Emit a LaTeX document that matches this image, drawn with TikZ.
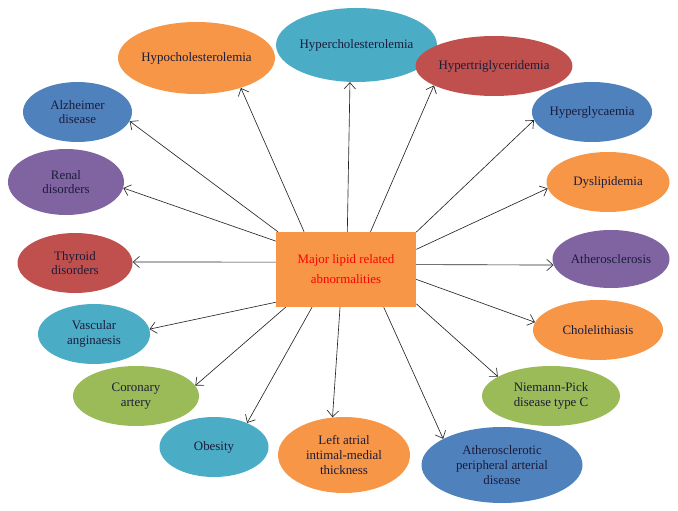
\documentclass[tikz,border=0pt]{standalone}
\usepackage{fontspec}
\setmainfont{Liberation Serif}
\definecolor{offorange}{HTML}{F79646}
\definecolor{offteal}{HTML}{4BACC6}
\definecolor{offred}{HTML}{C0504D}
\definecolor{offblue}{HTML}{4F81BD}
\definecolor{offpurple}{HTML}{8064A2}
\definecolor{offgreen}{HTML}{9BBB59}
\definecolor{inktext}{HTML}{1C1C3A}
\usetikzlibrary{arrows.meta, shapes.geometric}

\begin{document}
\begin{tikzpicture}[x=0.03cm, y=-0.03cm, >={Straight Barb[length=1.9mm,width=3.4mm]},
    blob/.style={ellipse, inner sep=0pt, align=center, text=inktext,
                 font=\fontsize{11}{12.5}\selectfont},
    wh/.style 2 args={minimum width=#1*0.03cm, minimum height=#2*0.03cm}]
      \useasboundingbox (0,0) rectangle (678,511);
      % Centre
      \node[fill=offorange, wh={140}{75}, align=center, text=red,
            font=\fontsize{11}{17}\selectfont] (main) at (346,269.5)
            {Major lipid related\\abnormalities};
      % Ring of abnormalities
      \node[blob, fill=offorange, wh={157}{72}] (hypo) at (196.5,58) {Hypocholesterolemia};
      \node[blob, fill=offteal, wh={157}{74}] (hyperc) at (356.5,45) {Hypercholesterolemia};
      \node[blob, fill=offred, wh={118}{60}] (hypert) at (494,66) {Hypertriglyceridemia};
      \node[blob, fill=offblue, wh={119}{60}] (hyperg) at (592,112) {Hyperglycaemia};
      \node[blob, fill=offorange, wh={123}{60}] (dysl) at (608,182) {Dyslipidemia};
      \node[blob, fill=offpurple, wh={117}{58}] (ather) at (611,259) {Atherosclerosis};
      \node[blob, fill=offorange, wh={130}{60}] (chole) at (598,330) {Cholelithiasis};
      \node[blob, fill=offgreen, wh={138}{60}] (niem) at (551,396) {Niemann-Pick\\disease type C};
      \node[blob, fill=offblue, wh={161}{76}] (athps) at (502,465) {Atherosclerotic\\peripheral arterial\\disease};
      \node[blob, fill=offorange, wh={132}{76}] (leftat) at (344,455) {Left atrial\\intimal-medial\\thickness};
      \node[blob, fill=offteal, wh={109}{60}] (obes) at (214,447) {Obesity};
      \node[blob, fill=offgreen, wh={126}{60}] (coron) at (136,396) {Coronary\\artery};
      \node[blob, fill=offteal, wh={112}{60}] (vasc) at (94,334) {Vascular\\anginaesis};
      \node[blob, fill=offred, wh={115}{60}] (thyr) at (75,263) {Thyroid\\disorders};
      \node[blob, fill=offpurple, wh={116}{66}] (renal) at (66,182) {Renal\\disorders};
      \node[blob, fill=offblue, wh={109}{60}] (alz) at (77.5,112) {Alzheimer\\disease};
      % Arrows
      \foreach \n/\a/\b in {hypo/138/-34, hyperc/88/-100, hypert/57/198, hyperg/28/188,
                            dysl/16/186, ather/4/186, chole/-8/173, niem/-26/160,
                            athps/-45/156, leftat/-99/107, obes/-132/36, coron/-148/10,
                            vasc/-155/5, thyr/174/1, renal/158/-6, alz/151/-10} {
        \draw[->, line width=0.55pt, black!85] (main.\a) -- (\n.\b);
      }
\end{tikzpicture}
\end{document}
